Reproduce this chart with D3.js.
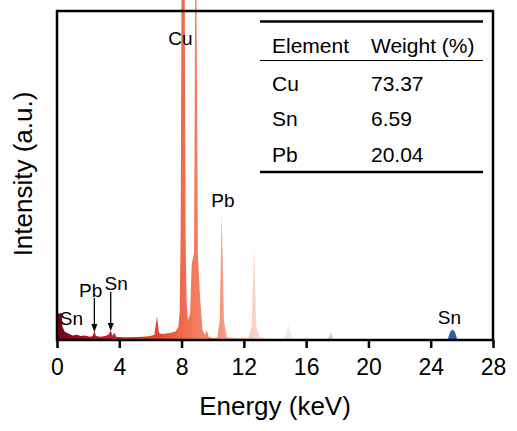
<!DOCTYPE html>
<html>
<head>
<meta charset="utf-8">
<script src="https://cdn.jsdelivr.net/npm/d3@7"></script>
<style>
  body { margin: 0; background: #fff; }
  svg { display: block; font-family: "Liberation Sans", Arial, sans-serif; }
</style>
</head>
<body>
<svg id="eds"></svg>
<script>
// spectrum: energy (keV) and intensity (0-1000 = frame height)
const energy = [0, 0.05, 0.3, 0.35, 0.5, 0.8, 1.0, 1.3, 1.5, 1.8, 2.1, 2.3, 2.4, 2.5, 2.8, 3.1, 3.3, 3.45, 3.55, 3.7, 3.8,
  4.2, 4.6, 5.0, 5.5, 6.0, 6.25, 6.42, 6.55, 6.7, 7.0, 7.3, 7.6, 7.8, 7.88, 7.94, 8.0, 8.2, 8.26, 8.32, 8.4, 8.55,
  8.65, 8.8, 8.88, 8.95, 9.05, 9.2, 9.35, 9.5, 9.62, 9.75, 10.0, 10.3, 10.45, 10.58, 10.72, 10.9, 11.5, 12.3, 12.5,
  12.66, 12.8, 13.0, 13.5, 14.6, 14.88, 15.1, 17.4, 17.58, 17.75, 25.1, 25.25, 25.4, 25.55, 25.7, 28];
const intensity = [0, 80, 82, 40, 25, 18, 14, 16, 12, 14, 10, 12, 28, 12, 10, 12, 16, 30, 14, 22, 10,
  8, 8, 9, 10, 12, 16, 72, 22, 18, 20, 22, 26, 40, 90, 320, 1100, 1100, 320, 120, 60, 80,
  230, 264, 1100, 1100, 260, 120, 30, 15, 30, 10, 6, 8, 60, 385, 60, 8, 5, 6, 40,
  278, 40, 8, 4, 4, 45, 4, 3, 25, 3, 3, 25, 32, 25, 3, 2];

// colour along the energy axis
const colorStops = [0, 1.5, 4, 6.4, 8, 9, 10.6, 12.7, 14.9, 17.6, 22, 25.4, 28];
const stopColors = ["#6b0019", "#9e0f26", "#c42a30", "#e4472f", "#f0684c", "#f27d60", "#f59a7d",
  "#fbd3c3", "#e4eef7", "#bcd7eb", "#6aa6d3", "#2465a9", "#0a3a76"];

const xTicks = [0, 4, 8, 12, 16, 20, 24, 28];

// peak labels and arrows
const peakLabels = ["Cu", "Pb", "Sn", "Sn", "Pb", "Sn"];
const peakLabelE = [7.93, 10.66, 25.2, 0.93, 2.16, 3.8];
const peakLabelI = [897, 405, 48, 46, 132, 152];
const arrowE = [2.4, 3.45];
const arrowTop = [128, 146];
const arrowTip = [24, 27];

// composition table
const tableHeader = ["Element", "Weight (%)"];
const elements = ["Cu", "Sn", "Pb"];
const weights = ["73.37", "6.59", "20.04"];

const width = 517, height = 431;
const margin = {top: 11, right: 24, bottom: 91, left: 57};

const svg = d3.select("#eds")
    .attr("width", width)
    .attr("height", height);

const x = d3.scaleLinear()
    .domain([0, 28])
    .range([margin.left, width - margin.right]);

const y = d3.scaleLinear()
    .domain([0, 1000])
    .range([height - margin.bottom, margin.top]);

const spectrum = energy.map((e, i) => ({e: e, v: intensity[i]}));

// gradient fill
const grad = svg.append("defs").append("linearGradient")
    .attr("id", "energyGrad")
    .attr("gradientUnits", "userSpaceOnUse")
    .attr("x1", x(0)).attr("x2", x(28))
    .attr("y1", 0).attr("y2", 0);

grad.selectAll("stop")
    .data(colorStops)
    .enter()
    .append("stop")
    .attr("offset", d => d / 28)
    .attr("stop-color", (d, i) => stopColors[i]);

const area = d3.area()
    .x(d => x(d.e))
    .y0(y(0))
    .y1(d => y(d.v));

svg.append("path")
    .datum(spectrum)
    .attr("d", area)
    .style("fill", "url(#energyGrad)");

// frame
svg.append("rect")
    .attr("x", x(0))
    .attr("y", y(1000))
    .attr("width", x(28) - x(0))
    .attr("height", y(0) - y(1000))
    .style("fill", "none")
    .style("stroke", "#000")
    .style("stroke-width", 2.5);

// x axis
const xAxis = d3.axisBottom(x)
    .tickValues(xTicks)
    .tickSize(8)
    .tickPadding(11)
    .tickFormat(d3.format("d"));

const gx = svg.append("g")
    .attr("transform", `translate(0, ${y(0)})`)
    .call(xAxis);
gx.select(".domain").remove();
gx.selectAll(".tick line")
    .style("stroke", "#000")
    .style("stroke-width", 2.5);
gx.selectAll(".tick text")
    .style("font-size", "23px")
    .style("fill", "#000")
    .attr("dy", "0.71em");

// axis titles
svg.append("text")
    .attr("x", (x(0) + x(28)) / 2)
    .attr("y", 415)
    .attr("text-anchor", "middle")
    .style("font-size", "26px")
    .text("Energy (keV)");

svg.append("text")
    .attr("transform", "translate(32, 174) rotate(-90)")
    .attr("text-anchor", "middle")
    .style("font-size", "26px")
    .text("Intensity (a.u.)");

// peak labels
svg.selectAll(".peak-label")
    .data(peakLabels)
    .enter()
    .append("text")
    .attr("class", "peak-label")
    .attr("x", (d, i) => x(peakLabelE[i]))
    .attr("y", (d, i) => y(peakLabelI[i]))
    .attr("text-anchor", "middle")
    .style("font-size", "19px")
    .text(d => d);

// arrows
arrowE.forEach((e, i) => {
    const ax = x(e), top = y(arrowTop[i]), tip = y(arrowTip[i]);
    svg.append("line")
        .attr("x1", ax).attr("x2", ax)
        .attr("y1", top).attr("y2", tip - 6)
        .style("stroke", "#000")
        .style("stroke-width", 1.3);
    svg.append("path")
        .attr("d", `M${ax - 3},${tip - 8} L${ax + 3},${tip - 8} L${ax},${tip} Z`)
        .style("fill", "#000");
});

// table
const tLeft = 260, tRight = 483;
const col1 = 272, col2 = 371;
const table = svg.append("g").style("font-size", "21px");

table.append("line")
    .attr("x1", tLeft).attr("x2", tRight)
    .attr("y1", 21.5).attr("y2", 21.5)
    .style("stroke", "#000").style("stroke-width", 2.5);

table.append("text").attr("x", col1).attr("y", 53).text(tableHeader[0]);
table.append("text").attr("x", col2).attr("y", 53).text(tableHeader[1]);

table.append("line")
    .attr("x1", tLeft).attr("x2", tRight)
    .attr("y1", 60.5).attr("y2", 60.5)
    .style("stroke", "#000").style("stroke-width", 1);

const rowY = d3.scalePoint()
    .domain(elements)
    .range([90.5, 161.5]);

table.selectAll(".el")
    .data(elements)
    .enter()
    .append("text")
    .attr("x", col1)
    .attr("y", d => rowY(d))
    .text(d => d);

table.selectAll(".wt")
    .data(weights)
    .enter()
    .append("text")
    .attr("x", col2)
    .attr("y", (d, i) => rowY(elements[i]))
    .text(d => d);

table.append("line")
    .attr("x1", tLeft).attr("x2", tRight)
    .attr("y1", 172).attr("y2", 172)
    .style("stroke", "#000").style("stroke-width", 2.5);
</script>
</body>
</html>
